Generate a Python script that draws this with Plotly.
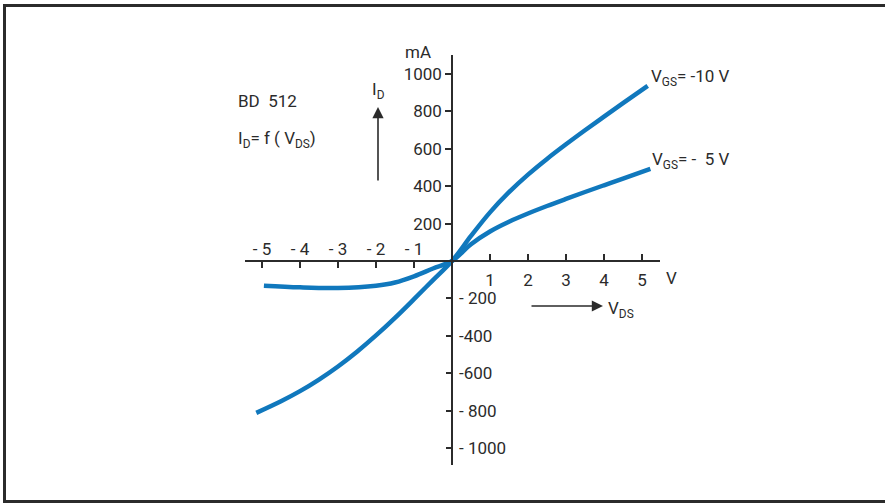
import plotly.graph_objects as go

# Output characteristics I_D = f(V_DS) of the BD 512
vds_10 = [-5.15, -4.5, -4.0, -3.5, -3.0, -2.5, -2.0, -1.5, -1.0, -0.5, 0.0,
          0.5, 1.0, 1.5, 2.0, 2.5, 3.0, 3.5, 4.0, 4.5, 5.15]
id_10 = [-812, -750, -696, -634, -564, -485, -398, -304, -204, -102, 0,
         134, 260, 368, 462, 546, 624, 699, 772, 844, 936]

vds_5 = [-4.95, -4.0, -3.0, -2.0, -1.5, -1.0, -0.5, 0.0,
         0.5, 1.0, 1.5, 2.0, 2.5, 3.0, 3.5, 4.0, 4.5, 5.22]
id_5 = [-132, -141, -144, -132, -115, -82, -40, 0,
        90, 158, 210, 254, 294, 332, 369, 405, 441, 493]

x_pos_ticks = [1, 2, 3, 4, 5]
x_neg_ticks = [-5, -4, -3, -2, -1]
x_neg_text = ["- 5", "- 4", "- 3", "- 2", "- 1"]
y_pos_ticks = [200, 400, 600, 800, 1000]
y_neg_ticks = [-200, -400, -600, -800, -1000]
y_neg_text = ["- 200", "-400", "-600", "- 800", "- 1000"]

W, H = 885, 503
INK = "#2b2b2b"
BLUE = "#1078bd"
FONT = "Roboto, Liberation Sans, sans-serif"


def px(x):
    return x / W


def py(y):
    return 1 - y / H


# pixel geometry of the axis cross
X0, Y0 = 452, 261          # origin
SX, SY = 38.0, 0.187       # px per volt, px per mA
XL, XR = 245, 660          # x-axis extent
YT, YB = 55, 465           # y-axis extent

x_range = [(XL - X0) / SX, (XR - X0) / SX]
y_range = [(Y0 - YB) / SY, (Y0 - YT) / SY]
x_dom = [px(XL), px(XR)]
y_dom = [py(YB), py(YT)]

fig = go.Figure()
fig.add_trace(go.Scatter(x=vds_10, y=id_10, mode="lines", line_shape="spline",
                         line=dict(color=BLUE, width=4.5, smoothing=1.0),
                         hoverinfo="skip"))
fig.add_trace(go.Scatter(x=vds_5, y=id_5, mode="lines", line_shape="spline",
                         line=dict(color=BLUE, width=4.5, smoothing=1.0),
                         hoverinfo="skip"))
# carrier trace for the secondary tick sets
fig.add_trace(go.Scatter(x=[None], y=[None], xaxis="x2", yaxis="y2",
                         mode="lines", hoverinfo="skip"))

tickfont = dict(family=FONT, size=17, color=INK)
common = dict(showgrid=False, zeroline=False, fixedrange=True,
              tickcolor=INK, tickwidth=1.5, ticklen=6, tickfont=tickfont)

fig.update_layout(
    width=W, height=H,
    margin=dict(l=0, r=0, t=0, b=0),
    paper_bgcolor="white", plot_bgcolor="white",
    showlegend=False,
    xaxis=dict(domain=x_dom, range=x_range, anchor="free", position=py(Y0),
               side="bottom", ticks="inside", tickvals=x_pos_ticks,
               showline=True, linecolor=INK, linewidth=1.5,
               ticklabelstandoff=4, **common),
    xaxis2=dict(range=x_range, overlaying="x", anchor="free", position=py(Y0),
                side="top", ticks="inside", tickvals=x_neg_ticks,
                ticktext=x_neg_text, showline=False,
                ticklabelstandoff=3, **common),
    yaxis=dict(domain=y_dom, range=y_range, anchor="free", position=px(X0),
               side="left", ticks="outside", tickvals=y_pos_ticks,
               showline=True, linecolor=INK, linewidth=1.5,
               ticklabelstandoff=0, **common),
    yaxis2=dict(range=y_range, overlaying="y", anchor="free", position=px(X0),
                side="right", ticks="inside", tickvals=y_neg_ticks,
                ticktext=y_neg_text, showline=False,
                ticklabelstandoff=6, **common),
)

# outer frame
fig.add_shape(type="rect", xref="paper", yref="paper",
              x0=px(4.5), x1=px(W + 10), y0=py(501.5), y1=py(5.5),
              line=dict(color=INK, width=3))

txt = dict(family=FONT, size=17, color=INK)
ann = [
    dict(x=px(418), y=py(52), text="mA", xanchor="center", yanchor="middle"),
    dict(x=px(671), y=py(278), text="V", xanchor="center", yanchor="middle"),
    dict(x=px(236), y=py(101), text="BD  512", xanchor="left", yanchor="middle"),
    dict(x=px(236), y=py(139), text="I<sub>D</sub>= f ( V<sub>DS</sub>)",
         xanchor="left", yanchor="middle"),
    dict(x=px(370), y=py(90), text="I<sub>D</sub>", xanchor="left", yanchor="middle"),
    dict(x=px(606), y=py(309), text="V<sub>DS</sub>", xanchor="left", yanchor="middle"),
    dict(x=px(649), y=py(77), text="V<sub>GS</sub>= -10 V", xanchor="left", yanchor="middle"),
    dict(x=px(650), y=py(160), text="V<sub>GS</sub>= -  5 V", xanchor="left", yanchor="middle"),
]
for a in ann:
    fig.add_annotation(xref="paper", yref="paper", showarrow=False, font=txt, **a)

# direction arrows for I_D and V_DS
fig.add_annotation(xref="paper", yref="paper", x=px(378), y=py(107), text="",
                   showarrow=True, ax=0, ay=75, arrowhead=2, arrowsize=1.4,
                   arrowwidth=1.6, arrowcolor=INK)
fig.add_annotation(xref="paper", yref="paper", x=px(603), y=py(306), text="",
                   showarrow=True, ax=-73, ay=0, arrowhead=2, arrowsize=1.4,
                   arrowwidth=1.6, arrowcolor=INK)

fig.write_html("out.html")
